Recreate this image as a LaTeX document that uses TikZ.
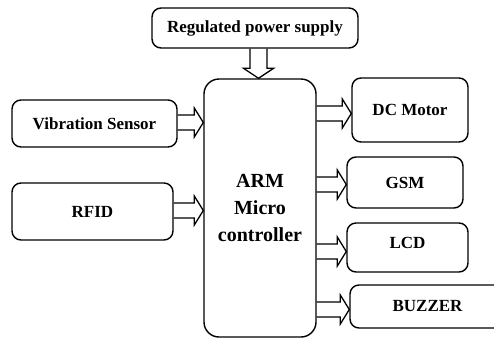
\documentclass[tikz,border=0pt]{standalone}
\usepackage{fontspec}
\setmainfont{Liberation Serif}
\usetikzlibrary{calc,positioning}
\tikzset{
  block/.style={draw, line width=1.4pt, rounded corners=9pt, align=center,
    inner sep=0pt, font=\fontsize{17}{20}\selectfont\bfseries},
  % hollow arrow pointing right
  feedright/.style={line width=1.3pt, to path={
    ($(\tikztostart)+(0,7.5)$) -- ($(\tikztotarget)+(-9,7.5)$) -- ($(\tikztotarget)+(-9,14.5)$)
    -- (\tikztotarget) -- ($(\tikztotarget)+(-9,-14.5)$) -- ($(\tikztotarget)+(-9,-7.5)$)
    -- ($(\tikztostart)+(0,-7.5)$)}},
  % hollow arrow pointing down
  feeddown/.style={line width=1.3pt, to path={
    ($(\tikztostart)+(-8.5,0)$) -- ($(\tikztotarget)+(-8.5,-10)$) -- ($(\tikztotarget)+(-15,-10)$)
    -- (\tikztotarget) -- ($(\tikztotarget)+(15,-10)$) -- ($(\tikztotarget)+(8.5,-10)$)
    -- ($(\tikztostart)+(8.5,0)$)}},
}
\begin{document}
\begin{tikzpicture}[x=1pt,y=-1pt]
\useasboundingbox (0,0) rectangle (494,343);
% Supply on top
\node[block, minimum width=206pt, minimum height=40pt] (supply) at (255,28) {Regulated power supply};
% The controller in the middle
\node[block, minimum width=112pt, minimum height=258pt, rounded corners=15pt,
  font=\fontsize{20}{27}\selectfont\bfseries] (arm) at (260,208) {ARM\\Micro\\controller};
% Inputs on the left
\node[block, minimum width=165pt, minimum height=47pt] (vib) at (94.5,123.5) {Vibration Sensor};
\node[block, minimum width=161pt, minimum height=57pt] (rfid) at (92.5,211.5) {RFID};
% Outputs on the right
\node[block, minimum width=116pt, minimum height=64pt] (motor) at (410,110) {DC Motor};
\node[block, minimum width=116pt, minimum height=51pt] (gsm) at (405,182.5) {GSM};
\node[block, minimum width=121pt, minimum height=49pt] (lcd) at (407.5,247.5) {\raisebox{9pt}{LCD}};
\node[block, minimum width=155pt, minimum height=43pt] (buzzer) at (427.5,306.5) {BUZZER};
% Hollow arrows
\draw[feeddown] ([xshift=3.5pt]supply.south) to ([xshift=3.5pt]supply.south |- arm.north);
\draw[feedright] ([yshift=1pt]vib.east) to ([yshift=1pt]vib.east -| arm.west);
\draw[feedright] ([yshift=1pt]rfid.east) to ([yshift=1pt]rfid.east -| arm.west);
\draw[feedright] ([yshift=-3.5pt]motor.west -| arm.east) to ([yshift=-3.5pt]motor.west);
\draw[feedright] ([yshift=-2pt]gsm.west -| arm.east) to ([yshift=-2pt]gsm.west);
\draw[feedright] ([yshift=-4pt]lcd.west -| arm.east) to ([yshift=-4pt]lcd.west);
\draw[feedright] ([yshift=-3pt]buzzer.west -| arm.east) to ([yshift=-3pt]buzzer.west);
\end{tikzpicture}
\end{document}
